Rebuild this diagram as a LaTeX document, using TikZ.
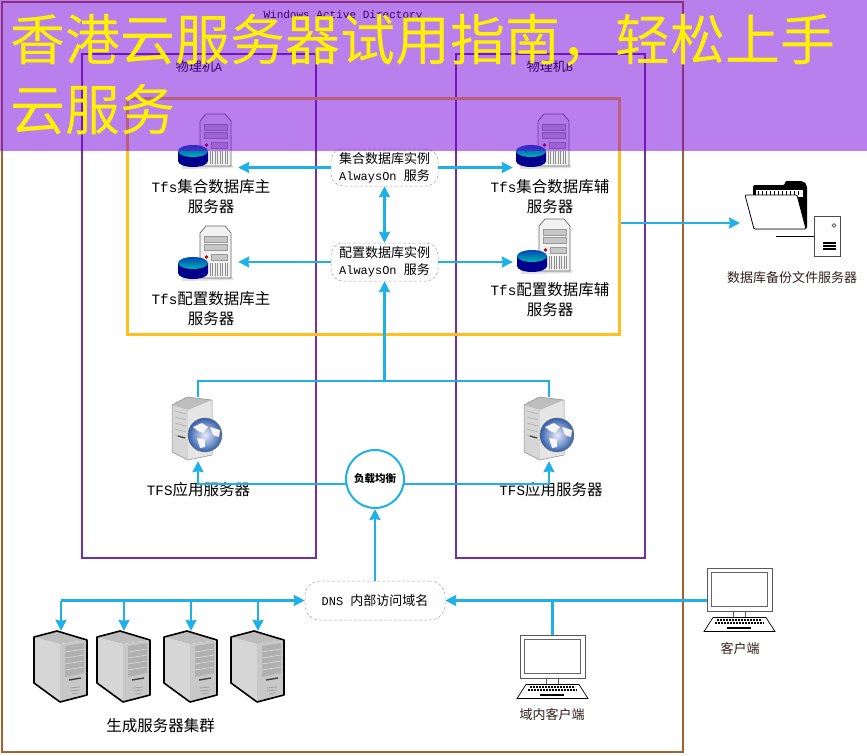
\documentclass[tikz,border=0pt]{standalone}
\usepackage{fontspec}
\setmainfont{Noto Sans CJK SC}
\newfontfamily\lat[Scale=0.92]{Liberation Mono}
\usetikzlibrary{arrows.meta,calc}
\definecolor{brownline}{RGB}{163,97,45}
\definecolor{purpline}{RGB}{112,48,160}
\definecolor{yelline}{RGB}{255,192,30}
\definecolor{wire}{RGB}{30,176,230}
\definecolor{banner}{RGB}{117,0,221}
\definecolor{labelink}{RGB}{50,30,30}
\definecolor{globeblue}{RGB}{50,95,170}
\definecolor{towerleft}{RGB}{214,214,214}
\definecolor{towertop}{RGB}{190,190,190}
\definecolor{towerright}{RGB}{200,200,200}
\definecolor{towerpanel}{RGB}{176,176,176}
\tikzset{
  x=1pt,y=-1pt,
  framebox/.style={draw,line width=2pt,inner sep=0,fill=none},
  iconbox/.style={inner sep=0,draw=none,fill=none},
  txt/.style={inner sep=0,align=center,text=black},
  lbl16/.style={txt,font=\fontsize{15.5}{20}\selectfont},
  lbl13/.style={txt,text=labelink,font=\fontsize{13}{17}\selectfont},
  dashbox/.style={draw=gray!70,densely dashed,line width=.5pt,rounded corners=12pt,fill=white,inner sep=0,align=center,font=\fontsize{13}{17}\selectfont},
  conn/.style={draw=wire,line width=2.2pt},
  arr/.style={conn,-{Stealth[length=11pt,width=11pt,inset=1pt]}},
  both/.style={conn,{Stealth[length=11pt,width=11pt,inset=1pt]}-{Stealth[length=11pt,width=11pt,inset=1pt]}},
  dbserver/.pic={
    \fill[black!12] (-18,51) -- (33,51) -- (33,54) -- (-18,55) -- cycle;
    \draw[fill=black!5,draw=black!60,line width=.7pt] (0,7) -- (6,0) -- (25,0) -- (31,7) -- (31,52) -- (0,52) -- cycle;
    \draw[fill=black!22,draw=black!40,line width=.5pt] (4,10) rectangle (27,16) (4,18) rectangle (27,24) (11,28) rectangle (27,34);
    \fill[red!70!black] (6.5,31) circle (1.8);
    \foreach \gx in {10,12.5,...,28}{\draw[black!45,line width=.6pt] (\gx,37) -- (\gx,50);}
    \fill[blue!55!black] (-22,37) -- (-22,47) arc[start angle=180,end angle=0,x radius=15,y radius=6] -- (8,37) -- cycle;
    \shade[top color=blue!60!cyan!70!black,bottom color=cyan!70!black] (-7,37) ellipse[x radius=15,y radius=6];
  },
  tower/.pic={
    \fill[towerleft] (0,6) -- (26,13) -- (26,71) -- (0,52) -- cycle;
    \fill[towertop] (0,6) -- (23,0) -- (53,9) -- (26,13) -- cycle;
    \fill[towerright] (26,13) -- (53,9) -- (53,64) -- (26,71) -- cycle;
    \draw[black,line width=1.6pt,line join=round] (0,6) -- (23,0) -- (53,9) -- (53,64) -- (26,71) -- (0,52) -- cycle;
    \fill[towerpanel] (31,15) -- (50,12) -- (50,42) -- (31,46) -- cycle;
    \foreach \ly in {21,27,33,39}{\draw[black!14,line width=.6pt] (31,\ly) -- (50,\ly-3);}
    \draw[black!75,line width=1.4pt] (35,49) -- (47,47);
    \draw[black!40,line width=.6pt] (36,57) -- (46,56) (36,60) -- (46,59) (38,63) -- (44,62);
  },
  webserver/.pic={
    \fill[black!10] (16,13) -- (40,3) -- (40,58) -- (16,63) -- cycle;
    \fill[towerleft] (0,8) -- (16,13) -- (16,63) -- (0,55) -- cycle;
    \fill[towertop] (0,8) -- (15,0) -- (40,3) -- (16,13) -- cycle;
    \draw[black!45,line width=.5pt] (0,8) -- (15,0) -- (40,3) -- (40,58) -- (16,63) -- (0,55) -- cycle;
    \foreach \ly in {14,20,26,32,38}{\draw[black!32,line width=.6pt] (3,\ly) -- (14,\ly+3);}
    \draw[black!75,line width=1.2pt] (6,39) -- (13,41);
    \shade[inner color=blue!8,outer color=globeblue,draw=black!55] (33,38) circle (17);
    \fill[white!92!gray] (21,30) -- (30,26) -- (36,30) -- (31,36) -- (26,34) -- cycle;
    \fill[white!92!gray] (25,41) -- (33,42) -- (33,50) -- (28,51) -- cycle;
    \fill[white!92!gray] (38,30) -- (48,33) -- (47,40) -- (41,38) -- cycle;
  },
  pcicon/.pic={
    \draw[fill=white,draw=black!65,line width=.8pt] (0,0) rectangle (65,43);
    \draw[fill=white,draw=black!60,line width=1.4pt] (4.5,4.5) rectangle (60.5,38.5);
    \draw[fill=white,draw=black!65,line width=.8pt] (26,43) rectangle (38,49.5);
    \draw[fill=white,draw=black,line width=.7pt] (6,49.5) -- (59,49.5) -- (68,63.5) -- (-3,63.5) -- cycle;
    \draw[black,line width=1.1pt,dash pattern=on 2pt off 1pt] (10,52) -- (55,52) (8,55) -- (57,55);
    \fill[black] (20,58.5) rectangle (44,60.5);
  },
  folderserver/.pic={
    \fill[black,rounded corners=2pt] (8,4) -- (40,4) -- (40,0) -- (58,0) -- (62,4) -- (62,48) -- (8,48) -- cycle;
    \fill[white] (11,9) rectangle (58,16);
    \foreach \tx in {13,17,...,55}{\draw[black,line width=.8pt] (\tx,10) -- (\tx,14);}
    \draw[fill=white,draw=black,line width=.8pt,rounded corners=1pt] (0,14) -- (52,14) -- (61,48) -- (9,48) -- cycle;
    \draw[black,line width=.6pt] (31,55) -- (69,55);
    \draw[fill=white,draw=black!70,line width=.7pt] (69,35) rectangle (95,75);
    \draw[black!70,line width=.7pt] (89,44.5) circle (1.8);
    \foreach \ly in {62,65,68}{\draw[black,line width=1.5pt] (78,\ly) -- (91,\ly);}
  }
}
\begin{document}
\begin{tikzpicture}
\useasboundingbox (0,0) rectangle (867,755);
\fill[white] (0,0) rectangle (867,755);

% containers
\node[framebox,draw=brownline,minimum width=681pt,minimum height=750pt] (domain) at (342.5,377) {};
\node[framebox,draw=purpline,minimum width=234pt,minimum height=504pt] (hostA) at (199,306) {};
\node[framebox,draw=purpline,minimum width=189pt,minimum height=504pt] (hostB) at (550.5,306) {};
\node[framebox,draw=yelline,line width=3pt,minimum width=492pt,minimum height=236pt] (cluster) at (373,216) {};
\node[txt,font=\fontsize{12}{14}\selectfont] (domainlabel) at (343,16) {\lat Windows Active Directory};
\node[txt,font=\fontsize{13}{14}\selectfont] (hostAlabel) at (199,67) {物理机\lat A};
\node[txt,font=\fontsize{13}{14}\selectfont] (hostBlabel) at (550,67) {物理机\lat B};

% database servers
\pic at (200,114) {dbserver};
\pic at (200,226) {dbserver};
\pic at (538,114) {dbserver};
\pic at (539,219) {dbserver};
\node[iconbox,minimum width=53pt,minimum height=54pt] (dbmainA) at (204.5,141) {};
\node[iconbox,minimum width=53pt,minimum height=54pt] (dbmainB) at (204.5,253) {};
\node[iconbox,minimum width=53pt,minimum height=54pt] (dbsubA) at (542.5,141) {};
\node[iconbox,minimum width=53pt,minimum height=54pt] (dbsubB) at (543.5,246) {};
\node[lbl16] (t1) at (211,197) {\lat Tfs\normalfont 集合数据库主\\服务器};
\node[lbl16] (t2) at (211,309) {\lat Tfs\normalfont 配置数据库主\\服务器};
\node[lbl16] (t3) at (550,197) {\lat Tfs\normalfont 集合数据库辅\\服务器};
\node[lbl16] (t4) at (550,300) {\lat Tfs\normalfont 配置数据库辅\\服务器};

% AlwaysOn
\node[dashbox,minimum width=107pt,minimum height=37pt] (aon1) at (384.5,167.5) {集合数据库实例\\\lat AlwaysOn \normalfont 服务};
\node[dashbox,minimum width=107pt,minimum height=38pt] (aon2) at (384.5,262) {配置数据库实例\\\lat AlwaysOn \normalfont 服务};

% load balancer and DNS
\node[circle,draw=wire,line width=2pt,fill=white,minimum size=58pt,inner sep=0,font=\bfseries\fontsize{10.5}{12}\selectfont] (lb) at (375,479) {负载均衡};
\node[dashbox,rounded corners=15pt,minimum width=140pt,minimum height=39pt,font=\fontsize{13}{15}\selectfont] (dns) at (375,600.5) {\lat DNS \normalfont 内部访问域名};

% web servers
\pic at (172,397) {webserver};
\pic at (524,397) {webserver};
\node[iconbox,minimum width=52pt,minimum height=64pt] (webA) at (198,429) {};
\node[iconbox,minimum width=50pt,minimum height=64pt] (webB) at (549,429) {};
\node[lbl16] (webAlabel) at (198.5,490) {\lat TFS\normalfont 应用服务器};
\node[lbl16] (webBlabel) at (551,490) {\lat TFS\normalfont 应用服务器};

% backup
\pic at (745,181) {folderserver};
\node[iconbox,minimum width=95pt,minimum height=75pt] (backup) at (792.5,218.5) {};
\coordinate (backupin) at (740,223);
\node[lbl13] (backuplabel) at (792,278) {数据库备份文件服务器};

% production cluster
\pic at (34,631) {tower};
\pic at (97,631) {tower};
\pic at (164,631) {tower};
\pic at (231,631) {tower};
\node[iconbox,minimum width=54pt,minimum height=71pt] (farm1) at (61,666.5) {};
\node[iconbox,minimum width=54pt,minimum height=71pt] (farm2) at (124,666.5) {};
\node[iconbox,minimum width=54pt,minimum height=71pt] (farm3) at (191,666.5) {};
\node[iconbox,minimum width=54pt,minimum height=71pt] (farm4) at (258,666.5) {};
\node[lbl16] (farmlabel) at (160.5,726) {生成服务器集群};

% clients
\pic at (520,635) {pcicon};
\pic at (707,568) {pcicon};
\node[iconbox,minimum width=65pt,minimum height=43pt] (pcin) at (552.5,656.5) {};
\node[iconbox,minimum width=65pt,minimum height=43pt] (pcout) at (739.5,589.5) {};
\node[lbl13] (pcinlabel) at (552,715) {域内客户端};
\node[lbl13] (pcoutlabel) at (740,649) {客户端};

% connectors
\draw[arr,shorten >=7pt] (aon1.west) -- (aon1.west -| dbmainA.east);
\draw[arr,shorten >=3pt] (aon1.east) -- (aon1.east -| dbsubA.west);
\draw[arr,shorten >=7pt] (aon2.west) -- (aon2.west -| dbmainB.east);
\draw[arr,shorten >=4pt] (aon2.east) -- (aon2.east -| dbsubB.west);
\draw[both] (aon1.south) -- (aon2.north);
\coordinate (hub) at (384.5,381);
\draw[conn] (webA.north) -- (webA.north |- hub) -- (webB.north |- hub) -- (webB.north);
\draw[arr] (hub) -- (aon2.south);
\draw[arr] (cluster.east |- backupin) -- (backupin);
\coordinate (lbleft) at (346,484);
\coordinate (lbright) at (404,484);
\draw[arr] (lbleft) -| (webA.south);
\draw[arr] (lbright) -| (webB.south);
\draw[arr] (dns.north) -- (lb.south);
\draw[arr] (farm1.north |- dns.west) -- (dns.west);
\draw[arr] (farm1.north |- dns.west) -- (farm1.north);
\draw[arr] (farm2.north |- dns.west) -- (farm2.north);
\draw[arr] (farm3.north |- dns.west) -- (farm3.north);
\draw[arr] (farm4.north |- dns.west) -- (farm4.north);
\draw[arr] (pcout.west |- dns.east) -- (dns.east);
\draw[conn] (pcin.north) -- (pcin.north |- dns.east);

% banner
\fill[banner,opacity=.5] (0,0) rectangle (867,151);
\node[inner sep=0,anchor=west,text=yellow,font=\fontsize{55}{55}\selectfont] (title1) at (10,40) {香港云服务器试用指南，轻松上手};
\node[inner sep=0,anchor=west,text=yellow,font=\fontsize{55}{55}\selectfont] (title2) at (10,110) {云服务};
\end{tikzpicture}
\end{document}
